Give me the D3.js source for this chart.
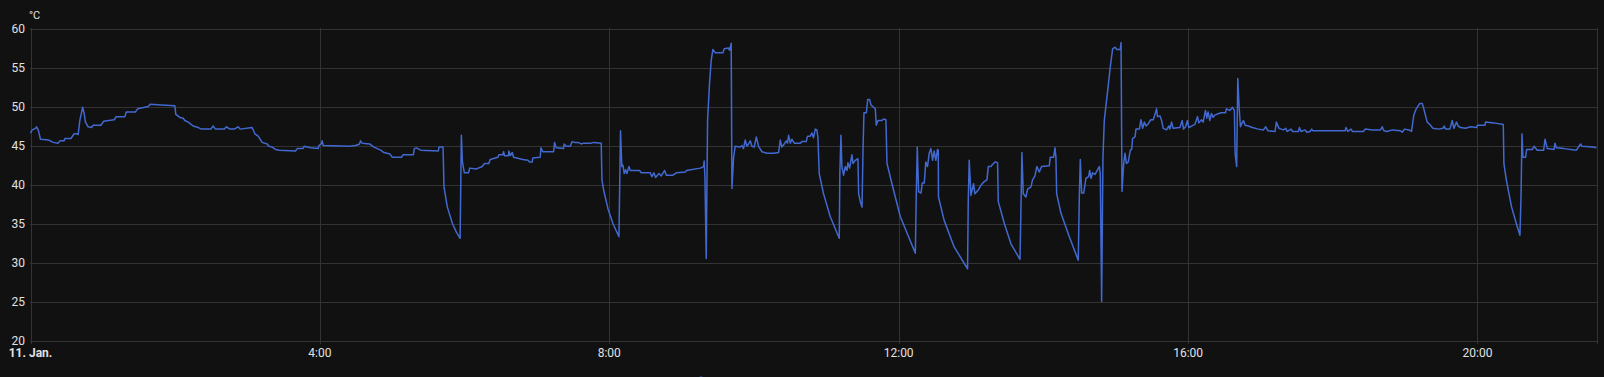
<!DOCTYPE html>
<html>
<head>
<meta charset="utf-8">
<script src="https://cdn.jsdelivr.net/npm/d3@7"></script>
<style>
  html, body { margin: 0; padding: 0; background: #111111; }
  svg { display: block; }
  text { font-family: Roboto, "Noto Sans", sans-serif; }
</style>
</head>
<body>
<svg id="chart" width="1604" height="377"></svg>
<script>
// ---- data (minutes since midnight, 11 Jan) ----
const minutes = [
  0,1.4,4.2,5,6.4,8.3,15.2,18.8,23,24.4,27.9,28.5,33.5,36.2,38.2,39.5,40.9,43.2,44.5,45.6,47.8,50.6,52,58.4,60.6,69.4,71.1,78.3,79.4,87.1,88.8,97.6,99.3,108.7,119.7,120.5,123.9,126.6,128,130.8,134.9,139.1,141.8,149.6,151.5,153.4,160.6,162.6,165.3,168.9,172.2,173.9,183.8,
  186.1,188.8,192.1,196.3,197.7,200.4,203.2,206,219.8,221.2,225.9,227,232.2,238.6,239.2,241.1,241.9,242.8,264.1,269.6,272.9,273.7,275.1,281.2,284.8,287.6,290.4,293.1,298.1,300,307.8,308.9,317.5,318.3,320,323.6,338.2,338.8,342.1,342.4,342.9,345.7,349.9,353.2,356.3,357.3,358.2,359.8,363.2,364.3,369.8,
  374.6,376.5,380.1,381.2,387.6,388.4,391.7,392.3,393.1,396.4,396.7,397.8,399.5,400.6,408.3,412.5,413.9,416.1,416.6,422.7,423.3,424.9,433.8,434.6,436,442.1,442.6,444.3,447.6,449.2,451.2,454,456.7,458.7,465,467,473.3,473.9,475.3,478.9,483,488,489.3,490.4,491.3,492.4,493.5,494.6,496.3,497.4,505.1,506.5,514,515.3,517,518.4,521.2,523.1,525.9,527.3,532.8,535.6,543.3,543.9,555.5,
  558.2,558.7,559.3,560.4,561.5,563.1,564.5,565.9,567.8,574.2,575.3,578.9,579.7,581.1,581.7,583.1,584.4,588.6,590,591.3,592.7,594.1,595.5,596.9,598.3,600.2,601.9,603.8,606.6,610.7,616.2,620.4,621.8,623.1,625.1,626.7,627.8,628.7,630.1,631.4,633.4,638.4,639.7,643.3,644.4,646.6,648,649.4,650.8,652.1,653,654.1,657.7,663.2,670.7,671.2,672.1,672.9,674.3,675.7,677.1,677.9,679.3,681.2,682.1,684,686.2,686.8,688.2,689.6,690.4,691.2,693.2,694.3,695.9,697,699.2,700.6,701.4,702.8,706.1,707.5,709.4,710.3,714.4,721.3,728.2,733.8,734.6,735.4,736.5,738.5,739.6,741.2,
  742.5,743.9,745.3,746.7,748.1,749.4,750.8,752.2,752.8,753,757.7,766,777.1,777.7,778.5,779.9,782.1,783.2,786,788.2,790.4,793.2,794.3,796.5,797.9,800.1,802,802.6,807.6,813.1,820.6,821.4,822.2,823.3,825.5,826.9,829.7,831,833,834.6,836.6,838.5,844.9,845.7,848.5,849.6,850.4,851,854.6,861.5,868.9,869.8,870.6,871.7,873.4,875.3,877.5,878.4,879.5,880.8,882.8,885,886.4,887.2,888.3,889.4,890.5,892.7,895.5,897.4,899.4,901,903.8,904.4,905.2,906.6,907.7,908.8,910.4,912.1,913.2,914,916,916.8,919.6,920.9,922.3,923.7,925.1,927,
  929.1,931.1,932.4,933.8,934.7,936.6,938,939.4,942.1,944.1,944.9,946.3,947.6,953.2,955.1,956.2,957.9,959.5,960.6,965.6,967.8,968.9,971.1,972.5,974.4,975.5,976.6,978,979.4,980.8,982.1,987.1,991,991.8,994.6,996.8,998.4,999,1000.3,1001.2,1002.3,1003.4,1004.5,1005.9,1007.3,1010,1013.3,1018.3,1022.5,1024.4,1026.1,1032.1,1033.2,1035.4,1039,1041,1042.1,1045.4,1046.5,1051.5,1052.3,1053.7,1057,1058.4,1061.2,1062.5,1063.4,1090.2,1091,1092.4,1095.1,1096.2,1105.4,1106.8,1112.9,
  1119.6,1121,1122.4,1125.1,1129.3,1136.2,1137.6,1139.5,1143.1,1145.3,1147.2,1149.2,1152.2,1154.2,1155.5,1158.3,1161.1,1163,1168,1171.3,1172.4,1173.5,1177.1,1179.1,1180.4,1182.6,1184,1186,1190.1,1194.3,1199,1200.1,1206.2,1206.7,1213.6,1221.4,1221.9,1223.9,1228.3,1232.2,1235.2,1236.1,1236.9,1237.7,1239.9,1240.8,1245.5,1246.9,1249.6,1254.9,1256,1257.9,1263.5,1264.3,1265.4,1271.8,1282,1283.7,1285.6,1286.5,1295.3,1298.6
];
const temps = [
  46.6,47.0,47.2,47.4,47.0,45.8,45.7,45.4,45.3,45.6,45.6,45.9,45.9,46.5,46.5,46.4,48.2,49.9,49.1,48.0,47.4,47.3,47.6,47.6,48.1,48.3,48.7,48.7,49.3,49.3,49.7,50.0,50.3,50.2,50.1,49.0,48.6,48.5,48.2,48.0,47.5,47.3,47.1,47.1,47.5,47.1,47.1,47.4,47.1,47.1,47.4,47.1,47.3,
  46.5,46.2,45.4,45.2,44.9,44.8,44.5,44.4,44.3,44.6,44.6,44.9,44.7,44.6,45.0,45.2,45.6,45.0,44.9,45.0,45.2,45.6,45.3,45.2,44.8,44.6,44.4,44.1,43.9,43.5,43.5,43.8,43.8,44.6,44.7,44.4,44.3,44.8,44.8,43.1,39.7,37.1,35.0,33.9,33.1,46.3,42.9,41.5,41.5,42.1,42.0,
  42.3,42.7,42.7,43.2,43.5,43.8,43.8,44.2,43.7,43.7,44.3,43.7,44.1,43.5,43.2,43.1,42.9,42.9,43.4,43.5,44.7,44.2,44.2,45.4,44.7,44.6,45.2,44.9,44.9,45.5,45.4,45.4,45.2,45.3,45.3,45.4,45.3,40.6,39.3,36.9,35.0,33.3,46.9,42.3,42.5,41.4,41.9,41.4,42.3,41.8,41.8,41.5,41.5,41.0,41.5,40.9,41.4,41.1,41.8,41.2,41.2,41.5,41.6,41.8,42.1,
  42.3,43.0,41.0,30.5,48.2,52.9,55.9,57.3,56.9,56.9,57.4,57.5,57.2,58.1,39.5,43.5,44.9,44.8,45.0,44.6,45.7,44.9,45.2,45.6,44.9,44.8,46.1,44.9,44.2,44.0,44.0,44.1,45.7,44.8,45.2,45.6,45.3,46.3,45.3,45.8,45.3,45.3,45.5,45.5,46.2,46.2,46.6,46.0,47.1,47.0,46.1,41.4,38.8,35.9,33.1,41.4,46.3,42.3,41.2,42.3,41.8,42.8,42.1,43.8,42.7,43.1,43.3,38.8,37.8,37.1,44.4,49.2,49.2,50.9,50.9,50.2,49.9,49.7,47.6,48.2,48.2,48.4,48.3,42.7,40.1,35.9,33.3,31.2,38.8,44.8,39.1,38.9,40.2,40.2,
  42.9,42.3,44.0,44.6,43.1,44.3,43.1,44.5,44.4,38.4,35.4,32.0,29.2,38.0,43.1,38.6,40.1,38.8,39.3,39.9,40.3,40.6,42.3,42.3,42.6,42.9,42.8,37.8,35.0,32.4,30.4,37.1,44.1,38.8,38.4,39.4,39.7,40.6,41.1,42.3,41.6,42.3,42.4,43.5,43.5,44.7,43.5,38.8,36.3,33.3,30.3,38.4,43.2,38.9,38.9,40.8,41.0,41.8,40.8,41.5,41.3,41.9,42.3,41.3,25.0,43.5,48.2,51.2,55.1,57.4,57.6,57.3,57.3,58.2,39.1,42.7,44.0,42.7,42.9,44.4,44.5,45.9,46.1,47.1,47.1,48.3,47.2,48.0,47.5,47.8,
  48.3,48.3,48.9,49.7,48.7,48.8,48.2,47.2,47.0,47.5,47.1,48.0,47.2,47.3,48.2,47.1,47.4,48.2,47.3,47.7,48.7,47.9,48.3,48.0,49.5,48.5,49.3,48.2,49.1,48.6,48.9,49.2,49.2,49.7,49.5,49.9,49.5,44.0,42.3,53.6,50.0,47.4,47.8,48.2,47.6,47.5,47.3,47.1,47.0,47.4,46.9,46.8,48.0,47.2,47.0,47.2,46.8,47.1,46.8,46.8,47.3,46.8,47.0,46.7,46.8,47.1,46.9,46.9,47.3,46.8,47.1,46.8,46.8,47.1,47.0,
  47.0,47.4,46.9,46.8,47.0,46.9,46.7,47.1,47.0,46.8,48.9,49.7,50.4,50.4,49.7,48.0,47.6,47.2,47.1,47.2,47.5,47.1,47.1,48.2,47.2,48.0,47.5,47.3,47.2,47.4,47.3,47.6,47.6,48.0,47.9,47.7,42.7,40.6,37.1,35.0,33.5,38.4,46.5,43.5,43.5,44.5,44.5,44.9,44.4,44.4,45.8,44.6,44.5,45.3,44.7,44.6,44.4,44.8,45.2,44.9,44.8,44.7
];
const yTicks = [20, 25, 30, 35, 40, 45, 50, 55, 60];
const xTickHours = [0, 4, 8, 12, 16, 20];
const xTickLabels = ["11. Jan.", "4:00", "8:00", "12:00", "16:00", "20:00"];
const unitLabel = "°C";
const endMinute = 1298.7;

// ---- build ----
const base = new Date(2024, 0, 11, 0, 0, 0);
const toDate = m => new Date(base.getTime() + m * 60000);
const data = minutes.map((m, i) => ({ t: toDate(m), v: temps[i] }));

const svg = d3.select("#chart");
const x = d3.scaleTime().domain([base, toDate(endMinute)]).range([30.5, 1596.5]);
const y = d3.scaleLinear().domain([20, 60]).range([340.5, 28.5]);

const gridColor = "#333333";
const textColor = "#e1e1e1";

// horizontal grid
svg.append("g").selectAll("line").data(yTicks).join("line")
  .attr("x1", 30).attr("x2", 1597)
  .attr("y1", d => Math.round(y(d)) + 0.5).attr("y2", d => Math.round(y(d)) + 0.5)
  .attr("stroke", gridColor).attr("stroke-width", 1);

// vertical grid incl. left axis and right edge
const xTickDates = xTickHours.map(h => toDate(h * 60));
svg.append("g").selectAll("line").data(xTickDates.concat([toDate(endMinute)])).join("line")
  .attr("x1", d => Math.round(x(d)) + 0.5).attr("x2", d => Math.round(x(d)) + 0.5)
  .attr("y1", 28).attr("y2", 344)
  .attr("stroke", gridColor).attr("stroke-width", 1);

// y labels
svg.append("g").selectAll("text").data(yTicks).join("text")
  .attr("x", 25).attr("y", d => y(d) + 4.3)
  .attr("text-anchor", "end")
  .attr("fill", textColor).attr("font-size", 12)
  .text(d => d);

// unit
svg.append("text").attr("x", 29).attr("y", 19)
  .attr("fill", textColor).attr("font-size", 11).text(unitLabel);

// x labels
svg.append("g").selectAll("text").data(xTickDates).join("text")
  .attr("x", d => x(d)).attr("y", 357)
  .attr("text-anchor", "middle")
  .attr("fill", textColor).attr("font-size", 12)
  .attr("font-weight", (d, i) => i === 0 ? "bold" : "normal")
  .text((d, i) => xTickLabels[i]);

// line
const line = d3.line().x(d => x(d.t)).y(d => y(d.v));
svg.append("path").datum(data)
  .attr("d", line)
  .attr("fill", "none")
  .attr("stroke", "#4269d0")
  .attr("stroke-width", 1.5)
  .attr("stroke-linejoin", "round");

// legend marker (mostly off-screen)
svg.append("circle").attr("cx", 701).attr("cy", 382).attr("r", 5.5).attr("fill", "#4269d0");
</script>
</body>
</html>
